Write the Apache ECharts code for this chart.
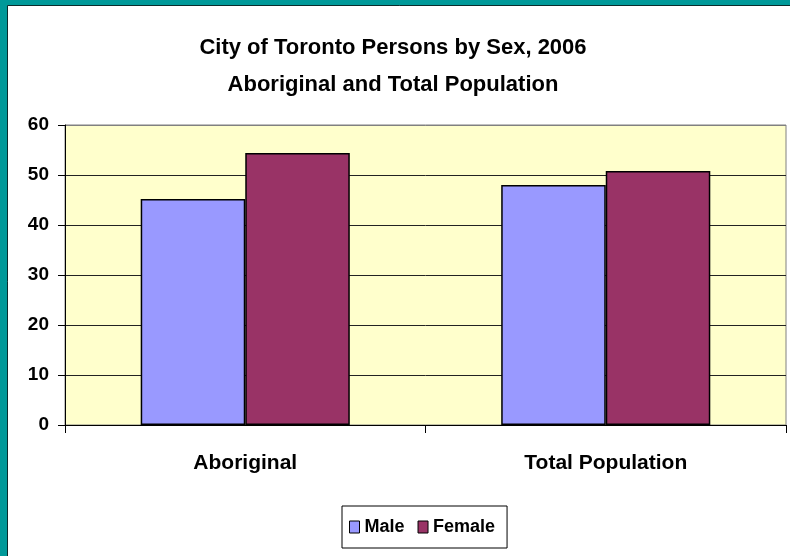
<!DOCTYPE html>
<html>
<head>
<meta charset="utf-8">
<script src="https://cdn.jsdelivr.net/npm/echarts@6/dist/echarts.min.js"></script>
<style>
html,body{margin:0;padding:0;background:#009999;}
#chart{width:790px;height:556px;}
</style>
</head>
<body>
<div id="chart"></div>
<script>
const categories = ['Aboriginal', 'Total Population'];
const maleValues = [45.2, 48.0];
const femaleValues = [54.4, 50.8];
const seriesNames = ['Male', 'Female'];
const titleLines = ['City of Toronto Persons by Sex, 2006', 'Aboriginal and Total Population'];

const FONT = '"Liberation Sans", Arial, sans-serif';
const chart = echarts.init(document.getElementById('chart'), null, {renderer: 'canvas'});
chart.setOption({
  backgroundColor: '#009999',
  animation: false,
  graphic: [{
    type: 'rect', z: -10, silent: true,
    shape: {x: 7.5, y: 5.5, width: 800, height: 600},
    style: {fill: '#ffffff', stroke: '#0b2b2b', lineWidth: 1}
  }],
  title: {
    text: titleLines.join('\n'),
    left: 388, top: 24, textAlign: 'center',
    textStyle: {fontFamily: FONT, fontWeight: 'bold', fontSize: 22, color: '#000', lineHeight: 37}
  },
  legend: {
    data: seriesNames,
    left: 342, top: 506,
    padding: [12, 12, 12, 7],
    itemWidth: 10, itemHeight: 12, itemGap: 13,
    borderColor: '#000', borderWidth: 1,
    icon: 'rect',
    itemStyle: {borderColor: '#000', borderWidth: 1},
    textStyle: {fontFamily: FONT, fontWeight: 'bold', fontSize: 18, color: '#000'}
  },
  grid: {
    left: 65, top: 125, width: 721, height: 300,
    show: true, backgroundColor: '#FFFFCC', borderColor: '#808080', borderWidth: 1
  },
  xAxis: {
    type: 'category', data: categories,
    axisLine: {lineStyle: {color: '#000', width: 1}},
    axisTick: {show: true, length: 8, interval: 0, lineStyle: {color: '#000'}},
    axisLabel: {fontFamily: FONT, fontWeight: 'bold', fontSize: 21, color: '#000', margin: 28}
  },
  yAxis: {
    type: 'value', min: 0, max: 60, interval: 10,
    axisLine: {show: true, lineStyle: {color: '#000', width: 1}},
    axisTick: {show: true, length: 7, lineStyle: {color: '#000'}},
    axisLabel: {fontFamily: FONT, fontWeight: 'bold', fontSize: 19, color: '#000', margin: 16},
    splitLine: {show: true, lineStyle: {color: ['#000', '#222', '#222', '#222', '#222', '#222', '#808080'], width: 1}}
  },
  series: [
    {name: seriesNames[0], type: 'bar', data: maleValues, barGap: '0%', barCategoryGap: '42%',
     itemStyle: {color: '#9999FF', borderColor: '#000', borderWidth: 1.5}},
    {name: seriesNames[1], type: 'bar', data: femaleValues,
     itemStyle: {color: '#993366', borderColor: '#000', borderWidth: 1.5}}
  ]
});
</script>
</body>
</html>
